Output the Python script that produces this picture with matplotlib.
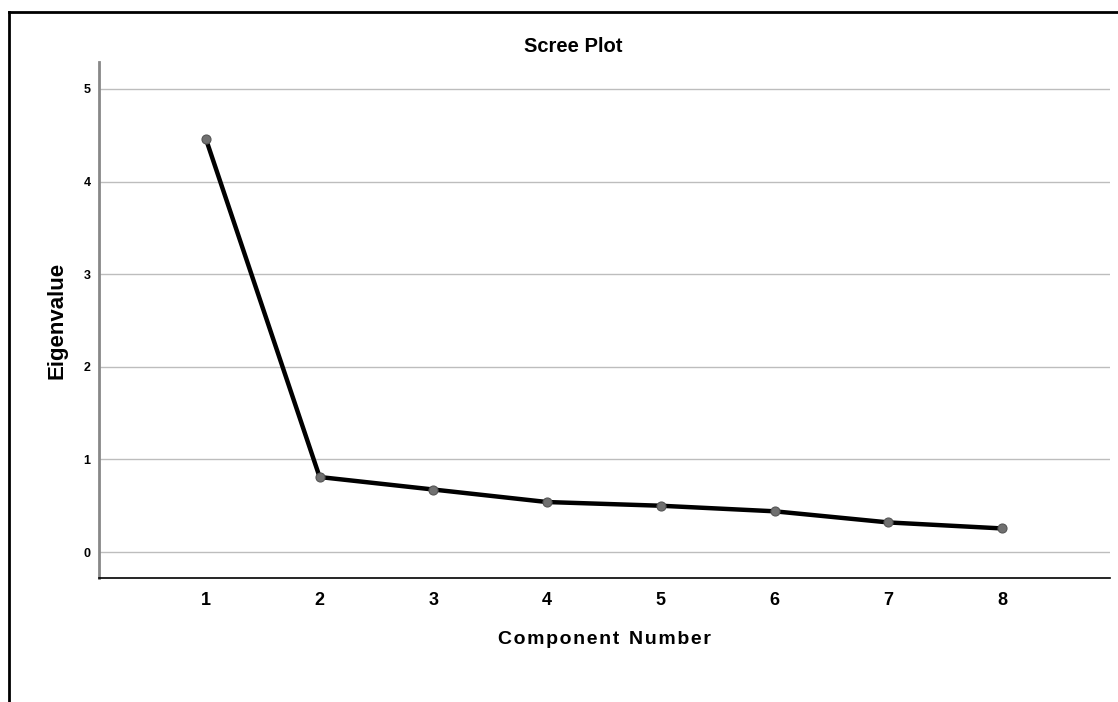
import matplotlib.pyplot as plt
from matplotlib.lines import Line2D

plt.rcParams['font.family'] = ['Liberation Sans', 'DejaVu Sans']

# Scree plot data
components = [1, 2, 3, 4, 5, 6, 7, 8]
eigenvalues = [4.46, 0.81, 0.675, 0.54, 0.50, 0.44, 0.32, 0.255]
y_ticks = [0, 1, 2, 3, 4, 5]

fig = plt.figure(figsize=(11.18, 7.02), dpi=100)
ax = fig.add_axes([99 / 1118, 1 - 578 / 702, (1110 - 99) / 1118, (578 - 62) / 702])

ax.plot(components, eigenvalues, color='black', linewidth=3.2, zorder=3,
        marker='o', markersize=6.5, markerfacecolor='#707070',
        markeredgecolor='#555555', markeredgewidth=0.8)

ax.set_xlim(0.06, 8.95)
ax.set_ylim(-0.28, 5.29)
ax.set_xticks(components)
ax.set_yticks(y_ticks)
ax.tick_params(axis='x', length=0, labelsize=13, pad=10)
ax.tick_params(axis='y', length=0, labelsize=9, pad=6)
for lab in ax.get_xticklabels() + ax.get_yticklabels():
    lab.set_fontweight('bold')

ax.grid(axis='y', color='#bdbdbd', linewidth=1)
ax.set_axisbelow(True)
for side in ['top', 'right']:
    ax.spines[side].set_visible(False)
ax.spines['left'].set_color('#888888')
ax.spines['left'].set_linewidth(2)
ax.spines['bottom'].set_color('black')
ax.spines['bottom'].set_linewidth(1.2)

fig.text(573 / 1118, 1 - 46 / 702, 'Scree Plot', fontsize=14.5, fontweight='bold',
         ha='center', va='center')
ax.set_xlabel('C o m p o n e n t   N u m b e r'.replace('   ', '\u2002').replace(' ', '\u200a'),
              fontsize=14, fontweight='bold', labelpad=16)
fig.text(57 / 1118, 1 - 320 / 702, 'Eigenvalue', fontsize=16, fontweight='bold',
         rotation=90, ha='center', va='center')

# outer frame (left and top edges)
fig.add_artist(Line2D([9 / 1118, 9 / 1118], [0, 1 - 12 / 702], transform=fig.transFigure,
                      color='black', linewidth=2))
fig.add_artist(Line2D([9 / 1118, 1], [1 - 12 / 702, 1 - 12 / 702], transform=fig.transFigure,
                      color='black', linewidth=2))

fig.savefig('out.png', dpi=100)
